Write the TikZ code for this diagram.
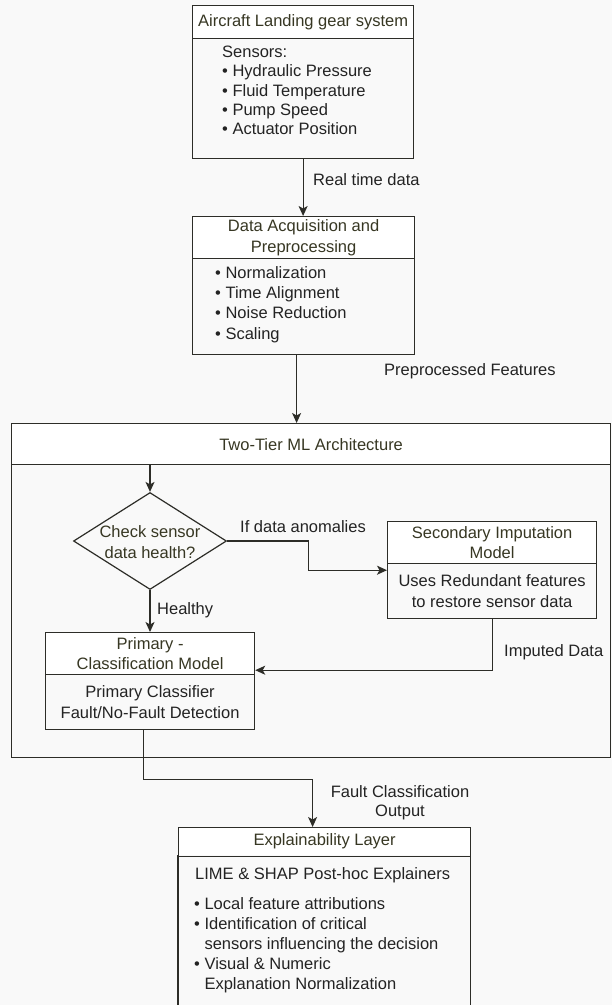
\documentclass[tikz,border=0pt]{standalone}
\usepackage{fontspec}
\setmainfont{Liberation Sans}
\usetikzlibrary{arrows.meta,shapes.geometric}
\definecolor{bg}{RGB}{249,249,249}
\definecolor{ln}{RGB}{45,45,40}
\definecolor{ttl}{RGB}{55,55,35}
\definecolor{txt}{RGB}{35,35,35}
\begin{document}
\begin{tikzpicture}[x=1pt,y=-1pt,
  font=\fontsize{16.5}{20}\selectfont,
  hdr/.style={draw=ln, line width=1.2pt, fill=white, anchor=north west, inner sep=0pt, text=ttl, align=center},
  bodybox/.style={draw=ln, line width=1.2pt, fill=bg, anchor=north west, inner sep=0pt},
  txtn/.style={text=txt, inner sep=0pt, align=left, anchor=west},
  ctxt/.style={text=txt, inner sep=0pt, align=center},
  lbl/.style={text=txt, inner sep=0pt, anchor=west},
  dia/.style={diamond, draw=ln, line width=1.2pt, fill=bg, inner sep=0pt, minimum width=153pt, minimum height=97pt},
  conn/.style={draw=ln, line width=1.2pt},
  arr/.style={conn, -{Stealth[length=10pt,width=9pt,inset=2.5pt]}}]
\fill[bg] (0,0) rectangle (612,1005);
\useasboundingbox (0,0) rectangle (612,1005);

% Box 1
\node[hdr, minimum width=221pt, minimum height=33pt] (b1h) at (192,5) {Aircraft Landing gear system};
\node[bodybox, minimum width=221pt, minimum height=120pt] (b1) at (192,38) {};
\node[txtn, font=\fontsize{16.5}{19.25}\selectfont] (b1t) at (222,90.5) {Sensors:\\• Hydraulic Pressure\\• Fluid Temperature\\• Pump Speed\\• Actuator Position};

% Box 2
\node[hdr, minimum width=222pt, minimum height=42pt, font=\fontsize{16.5}{21}\selectfont] (b2h) at (192,216) {Data Acquisition and\\Preprocessing};
\node[bodybox, minimum width=222pt, minimum height=96pt] (b2) at (192,258) {};
\node[txtn, font=\fontsize{16.5}{20.3}\selectfont] (b2t) at (215,304.5) {• Normalization\\• Time Alignment\\• Noise Reduction\\• Scaling};

\draw[arr] (b1.south) -- (b1.south |- b2h.north);
\node[lbl] (l1) at (313,180) {Real time data};

% Container
\node[hdr, minimum width=599pt, minimum height=41pt] (mlh) at (11,423) {Two-Tier ML Architecture};
\node[bodybox, minimum width=599pt, minimum height=293pt] (ml) at (11,464) {};

\draw[arr] ([xshift=-7pt]b2.south) -- ([xshift=-7pt]b2.south |- mlh.north);
\node[lbl] (l2) at (384,371) {Preprocessed Features};

% Diamond
\node[dia] (d) at (150,541) {};
\node[ctxt, text=ttl, font=\fontsize{16.5}{21}\selectfont] (dt) at (150,542.5) {Check sensor\\data health?};
\draw[arr] (d.north |- mlh.south) -- (d.north);

% Secondary box
\node[hdr, minimum width=209pt, minimum height=42pt, font=\fontsize{16.5}{20}\selectfont] (sbh) at (387,521) {Secondary Imputation\\Model};
\node[bodybox, minimum width=209pt, minimum height=55pt] (sb) at (387,563) {};
\node[ctxt, font=\fontsize{16.5}{21}\selectfont] (sbt) at (sb.center) {Uses Redundant features\\to restore sensor data};

\draw[arr] (d.east) -- ++(81,0) |- ([yshift=-6pt]sbh.south west);
\node[lbl] (l3) at (240,527) {If data anomalies};

% Primary box
\node[hdr, minimum width=209pt, minimum height=42pt, font=\fontsize{16.5}{20}\selectfont] (pbh) at (45,632) {Primary -\\Classification Model};
\node[bodybox, minimum width=209pt, minimum height=55pt] (pb) at (45,674) {};
\node[ctxt, font=\fontsize{16.5}{21}\selectfont] (pbt) at (pb.center) {Primary Classifier\\Fault/No-Fault Detection};

\draw[arr] (d.south) -- (d.south |- pbh.north);
\node[lbl] (l4) at (157,610) {Healthy};

\draw[arr] (sb.south) |- ([yshift=5pt]pbh.south east);
\node[lbl] (l5) at (504,652) {Imputed Data};

% Explainability
\node[hdr, minimum width=292pt, minimum height=28pt] (ebh) at (178,827) {Explainability Layer};
\node[anchor=north west, fill=bg, inner sep=0pt, minimum width=292pt, minimum height=150pt] (eb) at (178,855) {};
\draw[conn] (eb.north west) -- (eb.south west);
\draw[conn] (eb.north east) -- (eb.south east);
\draw[conn] (ebh.south west) -- (ebh.south east);
\node[lbl] (ebt1) at (195,875) {LIME \& SHAP Post-hoc Explainers};
\node[txtn, font=\fontsize{16.5}{20}\selectfont] (ebt2) at (194,945) {• Local feature attributions\\• Identification of critical\\\phantom{• }sensors influencing the decision\\• Visual \& Numeric\\\phantom{• }Explanation Normalization};

\draw[arr] ([xshift=-6.5pt]pb.south) -- ++(0,49) -| ([xshift=-12pt]ebh.north);
\node[ctxt, font=\fontsize{16.5}{19}\selectfont] (l6) at (400,802.5) {Fault Classification\\Output};
\end{tikzpicture}
\end{document}
